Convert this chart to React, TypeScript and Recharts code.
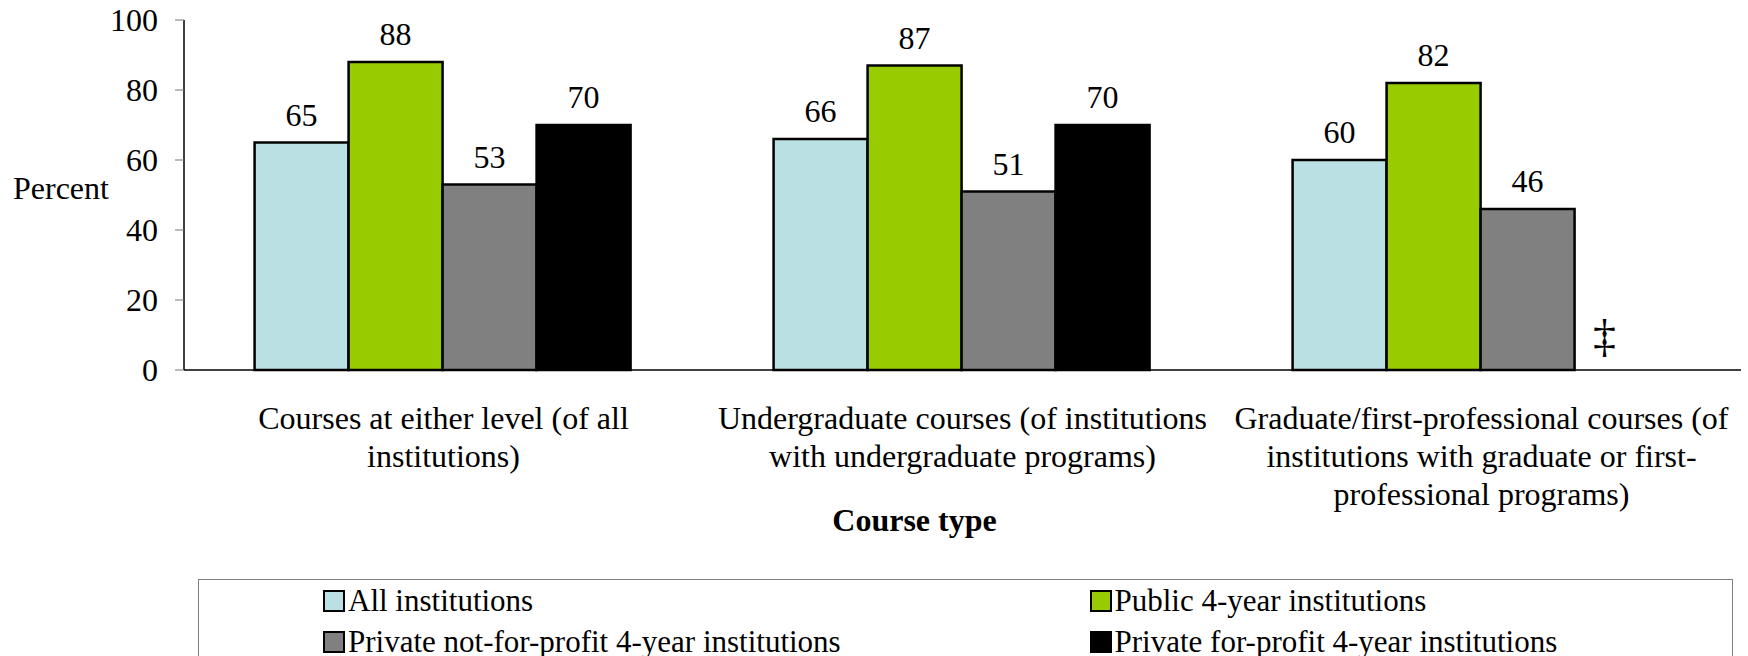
import React from "react";
import { BarChart, Bar, XAxis, YAxis, LabelList, Legend } from "recharts";

const FONT = "'Liberation Serif', 'Times New Roman', serif";

const categories = [
  "Courses at either level (of all institutions)",
  "Undergraduate courses (of institutions with undergraduate programs)",
  "Graduate/first-professional courses (of institutions with graduate or first-professional programs)",
];

// tick label line breaks as they appear in the original
const categoryLines = [
  ["Courses at either level (of all", "institutions)"],
  ["Undergraduate courses (of institutions", "with undergraduate programs)"],
  ["Graduate/first-professional courses (of", "institutions with graduate or first-", "professional programs)"],
];

const allInstitutions = [65, 66, 60];
const public4Year = [88, 87, 82];
const privateNonprofit = [53, 51, 46];
const privateForProfit: (number | null)[] = [70, 70, null]; // ‡ = reporting standards not met

const yTicks = [0, 20, 40, 60, 80, 100];
const boundaryTicks = [0, 1, 2, 3];

const series = [
  { key: "all", name: "All institutions", color: "#BBE0E3" },
  { key: "pub", name: "Public 4-year institutions", color: "#99CC00" },
  { key: "npo", name: "Private not-for-profit 4-year institutions", color: "#808080" },
  { key: "fpo", name: "Private for-profit 4-year institutions", color: "#000000" },
];

const data = categories.map((category, i) => ({
  category,
  all: allInstitutions[i],
  pub: public4Year[i],
  npo: privateNonprofit[i],
  fpo: privateForProfit[i],
  // marker for the missing for-profit value, drawn in the empty slot next to the npo bar
  fpoNote: privateForProfit[i] == null ? "‡" : null,
}));

const CategoryTick = (props: any) => {
  const { x, y, payload } = props;
  const idx = categories.indexOf(payload.value);
  const lines = categoryLines[idx] || [payload.value];
  return (
    <text textAnchor="middle" fontSize={32} fontFamily={FONT} fill="#000">
      {lines.map((line, i) => (
        <tspan key={i} x={x} y={y + 47 + i * 38}>
          {line}
        </tspan>
      ))}
    </text>
  );
};

const renderValue = (props: any) => {
  const { x, y, width, value } = props;
  if (value == null) return null;
  return (
    <text x={x + width / 2} y={y - 17} textAnchor="middle" fontSize={32} fontFamily={FONT} fill="#000">
      {value}
    </text>
  );
};

const renderNote = (props: any) => {
  const { x, y, width, height, value } = props;
  if (value == null) return null;
  return (
    <text
      x={x + width * 1.5 - 17}
      y={y + height - 34}
      textAnchor="middle"
      dominantBaseline="central"
      fontSize={46}
      fontFamily={FONT}
      fill="#000"
    >
      {value}
    </text>
  );
};

const LegendBox = () => (
  <div
    style={{
      boxSizing: "border-box",
      width: 1535,
      height: 90,
      border: "1px solid #808080",
      background: "#fff",
      display: "grid",
      gridTemplateColumns: "1fr 1fr",
      gridAutoRows: "41px",
      fontFamily: FONT,
      fontSize: 31,
      color: "#000",
    }}
  >
    {series.map((s) => (
      <div key={s.key} style={{ display: "flex", alignItems: "center", paddingLeft: 124 }}>
        <span
          style={{
            display: "inline-block",
            width: 18,
            height: 18,
            border: "2px solid #000",
            background: s.color,
            marginRight: 3,
          }}
        />
        <span style={{ lineHeight: 1 }}>{s.name}</span>
      </div>
    ))}
  </div>
);

export default function App() {
  return (
    <div style={{ position: "absolute", left: 0, top: 0, background: "#fff" }}>
      <BarChart
        width={1748}
        height={656}
        data={data}
        margin={{ top: 20, right: 7, left: 0, bottom: 0 }}
        barCategoryGap="13.6%"
        barGap={0}
        style={{ fontFamily: FONT }}
      >
        <XAxis
          xAxisId="b"
          type="number"
          domain={[0, 3]}
          ticks={boundaryTicks}
          allowDataOverflow
          tick={false}
          tickSize={10}
          height={10}
          axisLine={{ stroke: "#000", strokeWidth: 1.5 }}
          tickLine={{ stroke: "#777" }}
        />
        <XAxis
          xAxisId="c"
          dataKey="category"
          height={276}
          interval={0}
          tickLine={false}
          axisLine={false}
          tickSize={0}
          tick={<CategoryTick />}
          label={(p: any) => {
            const vb = p.viewBox;
            return (
              <text x={vb.x + vb.width / 2 - 48} y={vb.y + 151} textAnchor="middle" fontSize={32} fontWeight="bold" fontFamily={FONT} fill="#000">
                Course type
              </text>
            );
          }}
        />
        <YAxis
          domain={[0, 100]}
          ticks={yTicks}
          interval={0}
          width={184}
          tickSize={9}
          tickMargin={17}
          axisLine={{ stroke: "#000", strokeWidth: 1.5 }}
          tickLine={{ stroke: "#777" }}
          tick={{ fill: "#000", fontSize: 32, fontFamily: FONT }}
          label={(p: any) => {
            const vb = p.viewBox;
            return (
              <text x={vb.x + 13} y={vb.y + vb.height / 2 + 4} textAnchor="start" fontSize={32} fontFamily={FONT} fill="#000">
                Percent
              </text>
            );
          }}
        />
        {series.map((s) => (
          <Bar key={s.key} xAxisId="c" dataKey={s.key} name={s.name} fill={s.color} stroke="#000" strokeWidth={2.5} isAnimationActive={false}>
            <LabelList dataKey={s.key} content={renderValue} />
            {s.key === "npo" && <LabelList dataKey="fpoNote" content={renderNote} />}
          </Bar>
        ))}
        <Legend
          verticalAlign="middle"
          align="center"
          layout="horizontal"
          wrapperStyle={{ top: 579, left: 198, width: 1535, height: 90 }}
          content={() => <LegendBox />}
        />
      </BarChart>
    </div>
  );
}
